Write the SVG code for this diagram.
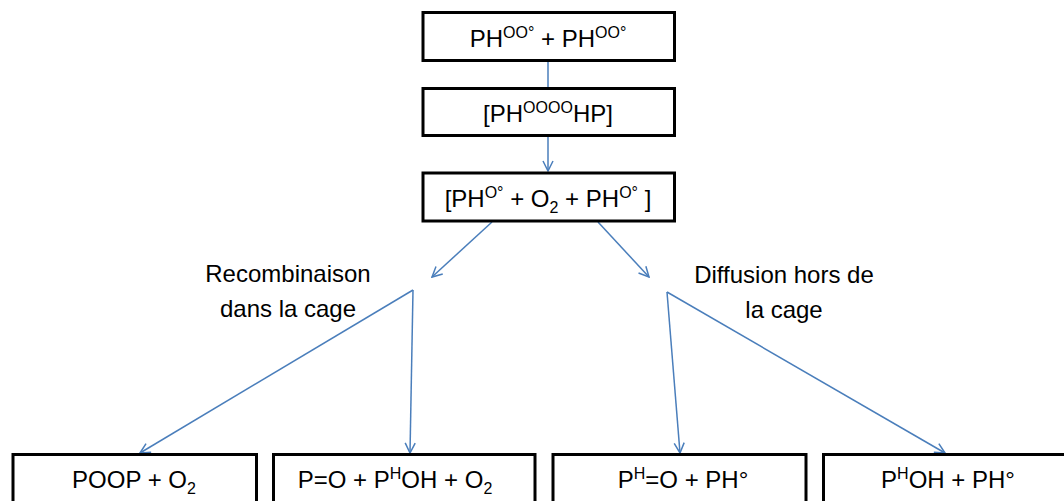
<svg xmlns="http://www.w3.org/2000/svg" width="1064" height="501" viewBox="0 0 1064 501">
<style>
  .box{fill:#fff;stroke:#000;stroke-width:3}
  .t{font-family:"Liberation Sans",Arial,sans-serif;font-size:24px;fill:#000;text-anchor:middle}
  .sup{font-size:16px}
  .con{fill:none;stroke:#4a7ebb;stroke-width:1.5}
</style>
<defs>
  <marker id="arr" viewBox="0 0 12 12" refX="11" refY="6" markerWidth="12" markerHeight="12" markerUnits="userSpaceOnUse" orient="auto">
    <path d="M1,1 L11,6 L1,11" fill="none" stroke="#4a7ebb" stroke-width="1.5"/>
  </marker>
</defs>
<rect width="1064" height="501" fill="#fff"/>
<g id="connectors">
  <line class="con" x1="548" y1="62" x2="548" y2="87"/>
  <line class="con" x1="548" y1="137" x2="548" y2="171" marker-end="url(#arr)"/>
  <line class="con" x1="492" y1="222" x2="432" y2="277" marker-end="url(#arr)"/>
  <line class="con" x1="598" y1="222" x2="649" y2="277" marker-end="url(#arr)"/>
  <line class="con" x1="413" y1="290" x2="140" y2="453" marker-end="url(#arr)"/>
  <line class="con" x1="413" y1="290" x2="410" y2="453" marker-end="url(#arr)"/>
  <line class="con" x1="667" y1="292" x2="680" y2="453" marker-end="url(#arr)"/>
  <line class="con" x1="667" y1="292" x2="945" y2="453" marker-end="url(#arr)"/>
</g>
<g id="n1">
  <rect class="box" x="423" y="12.5" width="251.5" height="48"/>
  <text class="t" x="548" y="47">PH<tspan class="sup" dy="-9">OO°</tspan><tspan dy="9"> + PH</tspan><tspan class="sup" dy="-9">OO°</tspan></text>
</g>
<g id="n2">
  <rect class="box" x="423" y="88.5" width="251.5" height="47"/>
  <text class="t" x="548" y="122">[PH<tspan class="sup" dy="-9">OOOO</tspan><tspan dy="9">HP]</tspan></text>
</g>
<g id="n3">
  <rect class="box" x="423" y="173" width="251.5" height="48"/>
  <text class="t" x="548" y="207">[PH<tspan class="sup" dy="-9">O°</tspan><tspan dy="9"> + O</tspan><tspan class="sup" dy="6">2</tspan><tspan dy="-6"> + PH</tspan><tspan class="sup" dy="-9">O°</tspan><tspan dy="9"> ]</tspan></text>
</g>
<g id="lbl-recombinaison">
  <text class="t" x="288" y="282">Recombinaison</text>
  <text class="t" x="288" y="317">dans la cage</text>
</g>
<g id="lbl-diffusion">
  <text class="t" x="784" y="283">Diffusion hors de</text>
  <text class="t" x="784" y="318">la cage</text>
</g>
<g id="nA">
  <rect class="box" x="13" y="454.5" width="243.5" height="60"/>
  <text class="t" x="134" y="488">POOP + O<tspan class="sup" dy="6">2</tspan></text>
</g>
<g id="nB">
  <rect class="box" x="273.5" y="454.5" width="261.5" height="60"/>
  <text class="t" x="395" y="488">P=O + P<tspan class="sup" dy="-9">H</tspan><tspan dy="9">OH + O</tspan><tspan class="sup" dy="6">2</tspan></text>
</g>
<g id="nC">
  <rect class="box" x="553" y="454.5" width="253" height="60"/>
  <text class="t" x="683" y="488">P<tspan class="sup" dy="-9">H</tspan><tspan dy="9">=O + PH°</tspan></text>
</g>
<g id="nD">
  <rect class="box" x="823.5" y="454.5" width="260" height="60"/>
  <text class="t" x="948" y="488">P<tspan class="sup" dy="-9">H</tspan><tspan dy="9">OH + PH°</tspan></text>
</g>
</svg>
